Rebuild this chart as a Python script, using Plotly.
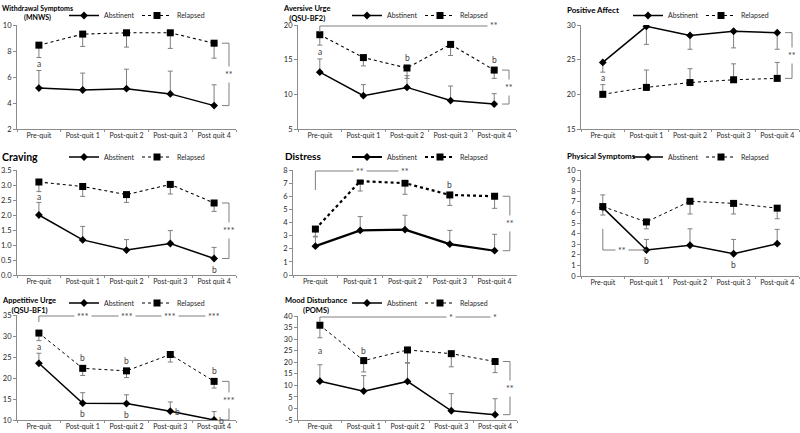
import plotly.graph_objects as go

labels = ["Pre-quit", "Post-quit 1", "Post-quit 2", "Post-quit 3", "Post-quit 4"]
labels_alt = ["Pre-quit", "Post-quit 1", "Post-quit 2", "Post-quit 3", "Post quit 4"]

# Withdrawal Symptoms (MNWS)
withdrawal_abst = [5.15, 5.0, 5.1, 4.7, 3.8]
withdrawal_abst_err = [1.35, 1.3, 1.5, 1.75, 1.6]
withdrawal_rel = [8.45, 9.3, 9.4, 9.4, 8.6]
withdrawal_rel_err = [0.95, 0.95, 1.1, 1.2, 1.15]

# Aversive Urge (QSU-BF2)
aversive_abst = [13.2, 9.8, 11.0, 9.1, 8.6]
aversive_abst_err = [1.9, 1.6, 1.7, 2.1, 1.5]
aversive_rel = [18.6, 15.3, 13.8, 17.2, 13.5]
aversive_rel_err = [1.5, 1.2, 1.5, 1.6, 1.2]

# Positive Affect
positive_abst = [24.6, 29.8, 28.5, 29.1, 28.9]
positive_abst_err = [1.4, 2.6, 2.0, 2.4, 2.4]
positive_rel = [20.0, 21.0, 21.7, 22.1, 22.3]
positive_rel_err = [1.4, 2.5, 2.0, 2.3, 2.3]

# Craving
craving_abst = [2.0, 1.17, 0.83, 1.05, 0.55]
craving_abst_err = [0.42, 0.45, 0.35, 0.43, 0.37]
craving_rel = [3.1, 2.95, 2.68, 3.02, 2.4]
craving_rel_err = [0.32, 0.33, 0.26, 0.32, 0.28]

# Distress
distress_abst = [2.2, 3.4, 3.45, 2.35, 1.85]
distress_abst_err = [0.7, 1.05, 1.1, 1.05, 1.25]
distress_rel = [3.5, 7.15, 7.0, 6.1, 6.0]
distress_rel_err = [0.55, 0.75, 0.85, 0.8, 0.92]

# Physical Symptoms
physical_abst = [6.45, 2.45, 2.9, 2.1, 3.05]
physical_abst_err = [1.2, 1.0, 1.55, 1.35, 1.35]
physical_rel = [6.55, 5.1, 7.05, 6.85, 6.4]
physical_rel_err = [0.8, 0.65, 1.2, 1.0, 1.0]

# Appetitive Urge (QSU-BF1)
appetitive_abst = [23.5, 14.0, 13.9, 12.1, 10.0]
appetitive_abst_err = [2.4, 2.5, 2.1, 2.2, 2.0]
appetitive_rel = [30.7, 22.3, 21.7, 25.6, 19.2]
appetitive_rel_err = [1.8, 1.7, 1.6, 1.8, 1.6]

# Mood Disturbance (POMS)
mood_abst = [11.8, 7.5, 11.7, -1.0, -2.7]
mood_abst_err = [7.1, 6.7, 7.9, 7.4, 6.9]
mood_rel = [36.0, 20.7, 25.3, 23.7, 20.3]
mood_rel_err = [5.4, 4.9, 5.5, 5.7, 4.8]

# significance letters: between groups / outside relapsed / below abstinent
withdrawal_mid = ["a", "", "", "", ""]
aversive_mid = ["a", "", "", "", ""]
aversive_rel_b = ["", "", "b", "", "b"]
positive_mid = ["a", "", "", "", ""]
craving_mid = ["a", "", "", "", ""]
craving_abst_b = ["", "", "", "", "b"]
distress_rel_b = ["", "b", "b", "b", ""]
physical_abst_b = ["", "b", "", "b", ""]
appetitive_mid = ["a", "", "", "", ""]
appetitive_rel_b = ["", "b", "b", "", "b"]
appetitive_abst_b = ["", "b", "b", "b", "b"]
mood_mid = ["a", "", "", "", ""]
mood_rel_b = ["", "b", "", "", ""]

# stars on the top (vs pre-quit) line
aversive_top = ["", "", "", "", "**"]
distress_top = ["", "**", "**", "", ""]
appetitive_top = ["", "***", "***", "***", "***"]
mood_top = ["", "", "", "*", "*"]

panels = [
    dict(title="Withdrawal Symptoms<br>(MNWS)", labels=labels_alt, abst=withdrawal_abst, abst_err=withdrawal_abst_err,
         rel=withdrawal_rel, rel_err=withdrawal_rel_err, yrange=[2, 10], dtick=2, mid=withdrawal_mid, right="**"),
    dict(title="Aversive Urge<br>(QSU-BF2)", labels=labels, abst=aversive_abst, abst_err=aversive_abst_err,
         rel=aversive_rel, rel_err=aversive_rel_err, yrange=[5, 20], dtick=5, mid=aversive_mid,
         rel_b=aversive_rel_b, top=aversive_top, right="**"),
    dict(title="Positive Affect", labels=labels, abst=positive_abst, abst_err=positive_abst_err,
         rel=positive_rel, rel_err=positive_rel_err, yrange=[15, 30], dtick=5, mid=positive_mid, right="**"),
    dict(title="Craving", labels=labels_alt, abst=craving_abst, abst_err=craving_abst_err,
         rel=craving_rel, rel_err=craving_rel_err, yrange=[0, 3.5], dtick=0.5, fmt=".1f", mid=craving_mid,
         abst_b=craving_abst_b, right="***"),
    dict(title="Distress", labels=labels, abst=distress_abst, abst_err=distress_abst_err,
         rel=distress_rel, rel_err=distress_rel_err, yrange=[0, 8], dtick=1, rel_b=distress_rel_b,
         top=distress_top, right="**"),
    dict(title="Physical Symptoms", labels=labels, abst=physical_abst, abst_err=physical_abst_err,
         rel=physical_rel, rel_err=physical_rel_err, yrange=[0, 10], dtick=1, abst_b=physical_abst_b, low="**"),
    dict(title="Appetitive Urge<br>(QSU-BF1)", labels=labels, abst=appetitive_abst, abst_err=appetitive_abst_err,
         rel=appetitive_rel, rel_err=appetitive_rel_err, yrange=[10, 35], dtick=5, mid=appetitive_mid,
         rel_b=appetitive_rel_b, abst_b=appetitive_abst_b, top=appetitive_top, right="***"),
    dict(title="Mood Disturbance<br>(POMS)", labels=labels, abst=mood_abst, abst_err=mood_abst_err,
         rel=mood_rel, rel_err=mood_rel_err, yrange=[-5, 40], dtick=5, mid=mood_mid,
         rel_b=mood_rel_b, top=mood_top, right="**"),
]

# layout: plot boxes in pixels (left, right, top, bottom), title spots, legend spots
W, H = 800, 433
boxes = [(17, 236, 25, 129), (298, 516, 25, 129), (581, 799, 25, 129),
         (17, 236, 170, 275), (293, 517, 170, 275), (581, 799, 170, 276),
         (17, 236, 315, 420), (298, 517, 316, 420)]
title_pos = [(0, 2, 7), (281, 2, 7.5), (565, 3, 8), (0, 149, 10.5), (283, 148, 10), (565, 149, 8),
             (0, 294, 7.5), (283, 294, 7.5)]
# (x px, y px, anchor)
legend_pos = [(64, 1, "top"), (347, 1, "top"), (628, 1, "top"), (64, 157, "middle"), (347, 157, "middle"),
              (628, 157, "middle"), (64, 303, "middle"), (347, 303, "middle")]
thick_a = [1.5, 1.5, 1.5, 1.5, 2.2, 1.5, 1.5, 1.5]
thick_r = [1.1, 1.1, 1.0, 1.1, 2.2, 1.0, 1.0, 1.0]
top_drop = [0, 7, 0, 0, 20, 0, 7, 6]

FONT = "Lato, Liberation Sans, Arial, sans-serif"
AXC = "#8c8c8c"
TXT = "#262626"

fig = go.Figure()
shapes, annos = [], []

for i, p in enumerate(panels):
    n = i + 1
    xr = "x" if n == 1 else f"x{n}"
    yr = "y" if n == 1 else f"y{n}"
    lg = "legend" if n == 1 else f"legend{n}"
    abst, rel = p["abst"], p["rel"]
    # error bars point toward the other group
    a_up = [e if r > a else 0 for a, r, e in zip(abst, rel, p["abst_err"])]
    a_dn = [0 if r > a else e for a, r, e in zip(abst, rel, p["abst_err"])]
    r_up = [0 if r > a else e for a, r, e in zip(abst, rel, p["rel_err"])]
    r_dn = [e if r > a else 0 for a, r, e in zip(abst, rel, p["rel_err"])]

    fig.add_trace(go.Scatter(
        x=p["labels"], y=abst, name="Abstinent", mode="lines+markers", xaxis=xr, yaxis=yr, legend=lg,
        line=dict(color="black", width=thick_a[i]), marker=dict(symbol="diamond", size=6, color="black"),
        error_y=dict(type="data", symmetric=False, array=a_up, arrayminus=a_dn, color="#7f7f7f",
                     thickness=1, width=2.5)))
    fig.add_trace(go.Scatter(
        x=p["labels"], y=rel, name="Relapsed", mode="lines+markers", xaxis=xr, yaxis=yr, legend=lg,
        line=dict(color="black", width=thick_r[i], dash="dot"), marker=dict(symbol="square", size=7, color="black"),
        error_y=dict(type="data", symmetric=False, array=r_up, arrayminus=r_dn, color="#7f7f7f",
                     thickness=1, width=2.5)))

    l, r, t, b = boxes[i]
    ax_x = dict(domain=[l / W, r / W], anchor=yr, type="category", categoryorder="array",
                categoryarray=p["labels"], range=[-0.5, 4.5], tickson="boundaries", ticks="outside",
                ticklen=2, tickcolor=AXC, showline=True, linecolor=AXC, linewidth=1, showgrid=False,
                zeroline=False, tickangle=0, automargin=False,
                tickfont=dict(family=FONT, size=7, color=TXT))
    y0, y1 = p["yrange"]
    ax_y = dict(domain=[1 - b / H, 1 - t / H], anchor=xr, range=[y0, y1], dtick=p["dtick"], tick0=y0,
                ticks="outside", ticklen=3, tickcolor=AXC, showline=True, linecolor=AXC, linewidth=1,
                showgrid=False, zeroline=False, automargin=False,
                tickfont=dict(family=FONT, size=7.5, color=TXT))
    if "fmt" in p:
        ax_y["tickformat"] = p["fmt"]
    if y0 < 0:
        vals = list(range(int(y0), int(y1) + 1, int(p["dtick"])))
        ax_y.update(tickmode="array", tickvals=vals, ticktext=[str(v) for v in vals])
    fig.layout["xaxis" if n == 1 else f"xaxis{n}"] = ax_x
    fig.layout["yaxis" if n == 1 else f"yaxis{n}"] = ax_y

    lx, ly, lanchor = legend_pos[i]
    fig.layout[lg] = dict(orientation="h", x=lx / W, y=1 - ly / H, xanchor="left", yanchor=lanchor,
                          font=dict(family=FONT, size=7, color=TXT), bgcolor="rgba(0,0,0,0)",
                          entrywidth=28, entrywidthmode="pixels", itemwidth=30)

    tx, ty, ts = title_pos[i]
    annos.append(dict(xref="paper", yref="paper", x=tx / W, y=1 - ty / H, xanchor="left", yanchor="top",
                      text=f"<b>{p['title']}</b>", showarrow=False, align="center",
                      font=dict(family=FONT, size=ts, color="black")))

    span = y1 - y0
    letter_font = dict(family=FONT, size=8.5, color="#404040")
    for k, s in enumerate(p.get("mid", [])):
        if s:
            lo = abst[k] + a_up[k] - a_dn[k]
            hi = rel[k] - r_dn[k] + r_up[k]
            annos.append(dict(xref=xr, yref=yr, x=k, y=(lo + hi) / 2, text=s, showarrow=False, font=letter_font))
    for k, s in enumerate(p.get("rel_b", [])):
        if s:
            annos.append(dict(xref=xr, yref=yr, x=k, y=rel[k], yshift=10, text=s, showarrow=False, font=letter_font))
    for k, s in enumerate(p.get("abst_b", [])):
        if s:
            # a letter that would drop under the axis sits beside the marker instead
            low_edge = abst[k] - 0.1 * span < y0
            annos.append(dict(xref=xr, yref=yr, x=k, y=abst[k], xshift=7 if low_edge else 0,
                              yshift=-1 if low_edge else -11, text=s, showarrow=False, font=letter_font))

    star_font = dict(family=FONT, size=9, color="#404040")
    line = dict(color="#7f7f7f", width=1)
    if "right" in p:
        for v in (rel[4], abst[4]):
            shapes.append(dict(type="line", xref=xr, yref=yr, x0=4.18, x1=4.34, y0=v, y1=v, line=line))
        shapes.append(dict(type="line", xref=xr, yref=yr, x0=4.34, x1=4.34, y0=rel[4], y1=abst[4], line=line))
        annos.append(dict(xref=xr, yref=yr, x=4.34, y=(rel[4] + abst[4]) / 2, text=p["right"], showarrow=False,
                          bgcolor="white", borderpad=2, font=star_font))
    if "top" in p:
        last = max(k for k, s in enumerate(p["top"]) if s)
        shapes.append(dict(type="line", xref=xr, yref=yr, x0=0, x1=last, ysizemode="pixel", yanchor=y1,
                           y0=-1, y1=-1, line=line))
        shapes.append(dict(type="line", xref=xr, yref=yr, x0=0, x1=0, ysizemode="pixel", yanchor=y1,
                           y0=-1, y1=-top_drop[i], line=line))
        for k, s in enumerate(p["top"]):
            if s:
                annos.append(dict(xref=xr, yref=yr, x=k, y=y1, yshift=-1, text=s, showarrow=False,
                                  bgcolor="white", borderpad=2, font=star_font))
    if "low" in p:
        base = abst[1]
        shapes.append(dict(type="line", xref=xr, yref=yr, x0=0, x1=0, y0=base, y1=base + 0.2 * span, line=line))
        shapes.append(dict(type="line", xref=xr, yref=yr, x0=0, x1=1, y0=base, y1=base, line=line))
        annos.append(dict(xref=xr, yref=yr, x=0.45, y=base, text=p["low"], showarrow=False,
                          bgcolor="white", borderpad=2, font=star_font))

fig.update_layout(width=W, height=H, margin=dict(l=0, r=0, t=0, b=0), plot_bgcolor="white",
                  paper_bgcolor="white", shapes=shapes, annotations=annos,
                  font=dict(family=FONT, color=TXT))

# drop the page's default body margin so the 800x433 figure fills the window
fig.write_html("out.html", config={"displayModeBar": False},
               post_script="document.body.style.margin='0';")
